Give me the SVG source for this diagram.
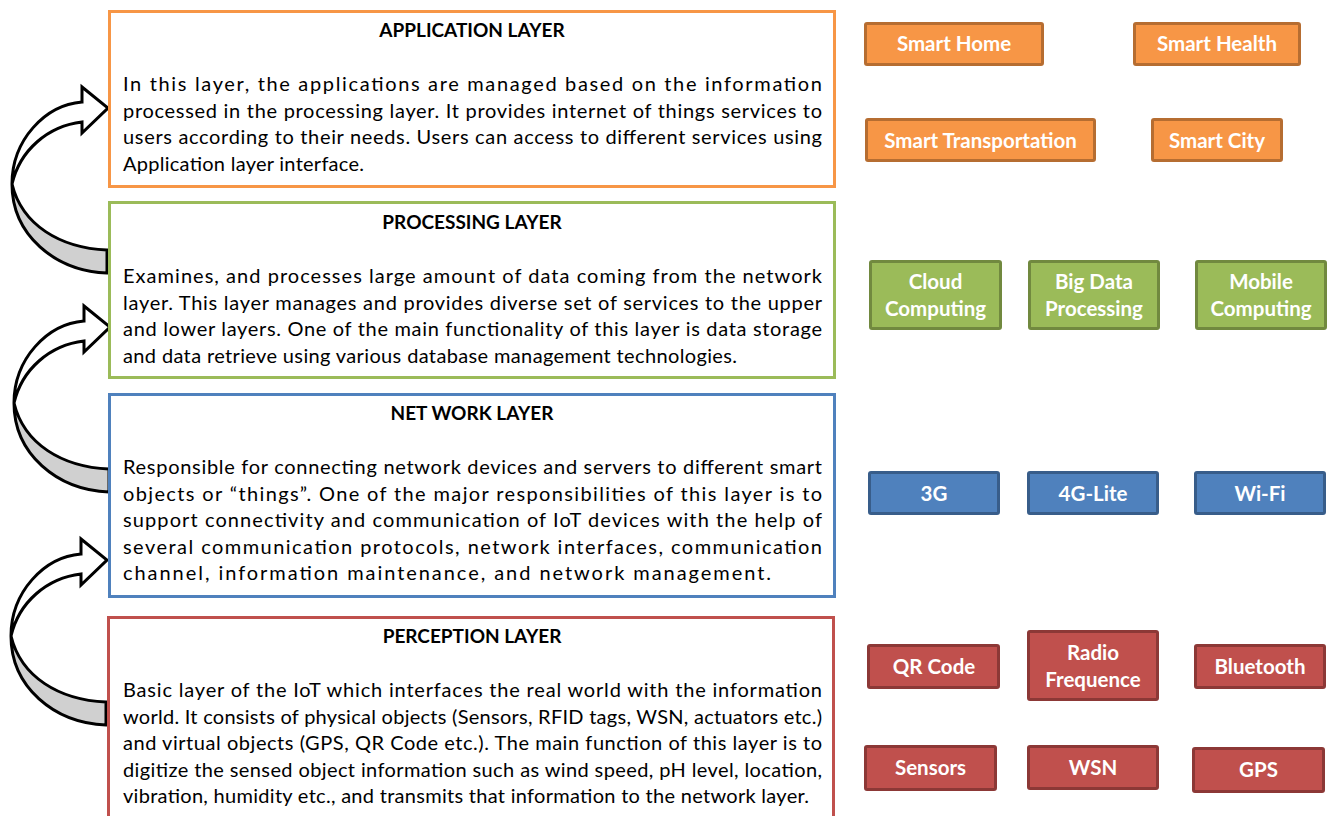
<svg xmlns="http://www.w3.org/2000/svg" width="1331" height="816" viewBox="0 0 1331 816">
  <style>
    .layer { fill: #FFFFFF; stroke-width: 3; }
    .title { font-family: Lato, "Liberation Sans", sans-serif; font-weight: bold; font-size: 19px; fill: #000000; text-anchor: middle; }
    .body { font-family: Lato, "Liberation Sans", sans-serif; font-size: 20px; fill: #000000; }
    .tag { stroke-width: 3; }
    .tag-text { font-family: Lato, "Liberation Sans", sans-serif; font-weight: bold; font-size: 20.5px; fill: #FFFFFF; text-anchor: middle; }
    .orange { fill: #F79646; stroke: #B66D31; }
    .green { fill: #9BBB59; stroke: #71893F; }
    .blue { fill: #4F81BD; stroke: #385D8A; }
    .red { fill: #C0504D; stroke: #8C3836; }
    .arrow-top { fill: #FFFFFF; stroke: #000000; stroke-width: 3; stroke-linejoin: miter; }
    .arrow-tail { fill: #D0D0D0; stroke: #000000; stroke-width: 3; stroke-linejoin: miter; }
  </style>
  <defs>
    <!-- curved right arrow: shaded tail band below, white band with head above -->
    <g id="curved-arrow">
      <path class="arrow-tail" d="M 12 184 C 12 235 55 271 107 273 L 107 250 C 60 248 22 225 12 184 Z"/>
      <path class="arrow-top" d="M 12 184 C 12 140 45 105 82 102 L 82 87 L 108 108 L 82 133 L 82 122 C 48 126 20 150 12 184 Z"/>
    </g>
  </defs>

  <g id="connectors">
    <use href="#curved-arrow"/>
    <use href="#curved-arrow" transform="translate(2,219)"/>
    <use href="#curved-arrow" transform="translate(-1,452)"/>
  </g>

  <g id="application-layer">
    <rect class="layer" x="109.5" y="11.5" width="725" height="175" stroke="#F79646"/>
    <text class="title" x="472" y="37">APPLICATION LAYER</text>
    <text class="body" x="123" y="91" textLength="699" lengthAdjust="spacing">In this layer, the applications are managed based on the information</text>
    <text class="body" x="123" y="117.5" textLength="699" lengthAdjust="spacing">processed in the processing layer. It provides internet of things services to</text>
    <text class="body" x="123" y="144" textLength="699" lengthAdjust="spacing">users according to their needs. Users can access to different services using</text>
    <text class="body" x="123" y="170.5" textLength="241" lengthAdjust="spacing">Application layer interface.</text>
  </g>

  <g id="processing-layer">
    <rect class="layer" x="109.5" y="202.5" width="725" height="175" stroke="#9BBB59"/>
    <text class="title" x="472" y="229">PROCESSING LAYER</text>
    <text class="body" x="123" y="283" textLength="699" lengthAdjust="spacing">Examines, and processes large amount of data coming from the network</text>
    <text class="body" x="123" y="309.5" textLength="699" lengthAdjust="spacing">layer. This layer manages and provides diverse set of services to the upper</text>
    <text class="body" x="123" y="336" textLength="699" lengthAdjust="spacing">and lower layers. One of the main functionality of this layer is data storage</text>
    <text class="body" x="123" y="362.5" textLength="614" lengthAdjust="spacing">and data retrieve using various database management technologies.</text>
  </g>

  <g id="network-layer">
    <rect class="layer" x="109.5" y="394.5" width="725" height="202" stroke="#4F81BD"/>
    <text class="title" x="472" y="420">NET WORK LAYER</text>
    <text class="body" x="123" y="474" textLength="699" lengthAdjust="spacing">Responsible for connecting network devices and servers to different smart</text>
    <text class="body" x="123" y="500.5" textLength="699" lengthAdjust="spacing">objects or “things”. One of the major responsibilities of this layer is to</text>
    <text class="body" x="123" y="527" textLength="699" lengthAdjust="spacing">support connectivity and communication of IoT devices with the help of</text>
    <text class="body" x="123" y="553.5" textLength="699" lengthAdjust="spacing">several communication protocols, network interfaces, communication</text>
    <text class="body" x="123" y="580" textLength="648" lengthAdjust="spacing">channel, information maintenance, and network management.</text>
  </g>

  <g id="perception-layer">
    <rect class="layer" x="108.5" y="617.5" width="725" height="210" stroke="#C0504D"/>
    <text class="title" x="472" y="643">PERCEPTION LAYER</text>
    <text class="body" x="123" y="697" textLength="699" lengthAdjust="spacing">Basic layer of the IoT which interfaces the real world with the information</text>
    <text class="body" x="123" y="723.5" textLength="699" lengthAdjust="spacing">world. It consists of physical objects (Sensors, RFID tags, WSN, actuators etc.)</text>
    <text class="body" x="123" y="750" textLength="699" lengthAdjust="spacing">and virtual objects (GPS, QR Code etc.). The main function of this layer is to</text>
    <text class="body" x="123" y="776.5" textLength="699" lengthAdjust="spacing">digitize the sensed object information such as wind speed, pH level, location,</text>
    <text class="body" x="123" y="803" textLength="686" lengthAdjust="spacing">vibration, humidity etc., and transmits that information to the network layer.</text>
  </g>

  <!-- application examples -->
  <g id="smart-home">
    <rect class="tag orange" x="865.5" y="23.5" width="177" height="41" rx="1.5"/>
    <text class="tag-text" x="954" y="51">Smart Home</text>
  </g>
  <g id="smart-health">
    <rect class="tag orange" x="1134.5" y="23.5" width="165" height="41" rx="1.5"/>
    <text class="tag-text" x="1217" y="51">Smart Health</text>
  </g>
  <g id="smart-transportation">
    <rect class="tag orange" x="866.5" y="119.5" width="228" height="41" rx="1.5"/>
    <text class="tag-text" x="980.5" y="148">Smart Transportation</text>
  </g>
  <g id="smart-city">
    <rect class="tag orange" x="1152.5" y="119.5" width="129" height="41" rx="1.5"/>
    <text class="tag-text" x="1217" y="148">Smart City</text>
  </g>

  <!-- processing examples -->
  <g id="cloud-computing">
    <rect class="tag green" x="870.5" y="261.5" width="130" height="67" rx="1.5"/>
    <text class="tag-text" x="935.5" y="289">Cloud</text>
    <text class="tag-text" x="935.5" y="316">Computing</text>
  </g>
  <g id="big-data-processing">
    <rect class="tag green" x="1029.5" y="261.5" width="129" height="67" rx="1.5"/>
    <text class="tag-text" x="1094" y="289">Big Data</text>
    <text class="tag-text" x="1094" y="316">Processing</text>
  </g>
  <g id="mobile-computing">
    <rect class="tag green" x="1196.5" y="261.5" width="129" height="67" rx="1.5"/>
    <text class="tag-text" x="1261" y="289">Mobile</text>
    <text class="tag-text" x="1261" y="316">Computing</text>
  </g>

  <!-- network examples -->
  <g id="net-3g">
    <rect class="tag blue" x="869.5" y="472.5" width="129" height="41" rx="1.5"/>
    <text class="tag-text" x="934" y="500.5">3G</text>
  </g>
  <g id="net-4g-lite">
    <rect class="tag blue" x="1028.5" y="472.5" width="129" height="41" rx="1.5"/>
    <text class="tag-text" x="1093" y="500.5">4G-Lite</text>
  </g>
  <g id="net-wifi">
    <rect class="tag blue" x="1195.5" y="472.5" width="129" height="41" rx="1.5"/>
    <text class="tag-text" x="1260" y="500.5">Wi-Fi</text>
  </g>

  <!-- perception examples -->
  <g id="qr-code">
    <rect class="tag red" x="868.5" y="645.5" width="130" height="42" rx="1.5"/>
    <text class="tag-text" x="934" y="673.5">QR Code</text>
  </g>
  <g id="radio-frequence">
    <rect class="tag red" x="1028.5" y="631.5" width="129" height="68" rx="1.5"/>
    <text class="tag-text" x="1093" y="659.5">Radio</text>
    <text class="tag-text" x="1093" y="686.5">Frequence</text>
  </g>
  <g id="bluetooth">
    <rect class="tag red" x="1195.5" y="645.5" width="129" height="42" rx="1.5"/>
    <text class="tag-text" x="1260" y="673.5">Bluetooth</text>
  </g>
  <g id="sensors">
    <rect class="tag red" x="865.5" y="746.5" width="130" height="43" rx="1.5"/>
    <text class="tag-text" x="930.5" y="775">Sensors</text>
  </g>
  <g id="wsn">
    <rect class="tag red" x="1028.5" y="746.5" width="129" height="42" rx="1.5"/>
    <text class="tag-text" x="1093" y="775">WSN</text>
  </g>
  <g id="gps">
    <rect class="tag red" x="1193.5" y="748.5" width="130" height="43" rx="1.5"/>
    <text class="tag-text" x="1258.5" y="777">GPS</text>
  </g>
</svg>
